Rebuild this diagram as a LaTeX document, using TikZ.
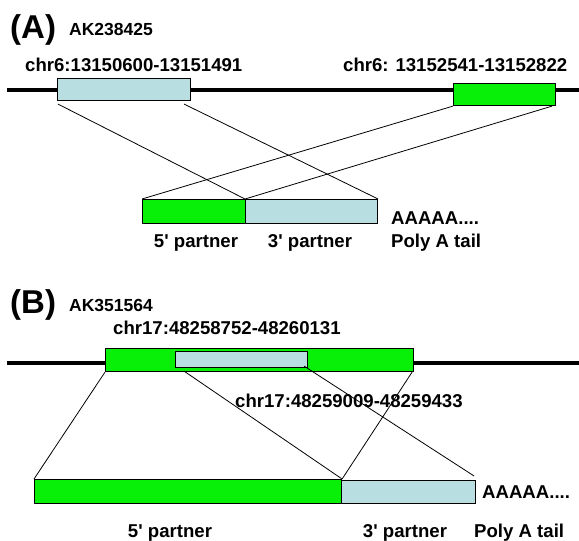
\documentclass[tikz,border=0pt]{standalone}
\usepackage{fontspec}
\setmainfont{Liberation Sans}
\usetikzlibrary{calc}
\definecolor{lblue}{RGB}{185,222,226}
\definecolor{lgreen}{RGB}{8,240,8}
\begin{document}
\begin{tikzpicture}[x=1pt,y=-1pt,
  txt/.style={inner sep=0pt,font=\fontsize{18.6}{18.6}\selectfont\bfseries},
  big/.style={inner sep=0pt,font=\fontsize{33}{33}\selectfont\bfseries},
  acc/.style={inner sep=0pt,font=\fontsize{17.5}{17.5}\selectfont\bfseries},
  exon/.style={draw=black,line width=1.1pt,inner sep=0pt,anchor=north west},
  bexon/.style={exon,fill=lblue},
  gexon/.style={exon,fill=lgreen},
  backbone/.style={line width=4pt},
  link/.style={line width=0.8pt}]
\useasboundingbox (0,0) rectangle (579,541);
% ---------- Panel A ----------
\node[big,anchor=base west] (labA) at (10,38) {(A)};
\node[acc,anchor=base west] (accA) at (69,35) {AK238425};
\node[txt,anchor=base west] (chrA1) at (25,71) {chr6:13150600-13151491};
\node[txt,anchor=base west] (chrA2) at (343,71) {chr6: 13152541-13152822};
\coordinate (bbAl) at (7,90);
\coordinate (bbAr) at (579,90);
\draw[backbone] (bbAl) -- (bbAr);
\node[bexon,minimum width=133pt,minimum height=22pt] (a1) at (57,78) {};
\node[gexon,minimum width=102pt,minimum height=22pt] (a2) at (453,83) {};
\node[gexon,minimum width=103pt,minimum height=24pt] (a5) at (142,199) {};
\node[bexon,minimum width=132pt,minimum height=24pt] (a3) at (245,199) {};
\draw[link] ($(a1.south west)+(1,3)$) -- (a3.north west);
\draw[link] ($(a1.south east)+(-7,3)$) -- (a3.north east);
\draw[link] (a2.south west) -- (a5.north west);
\draw[link] ($(a2.south east)+(-4,0)$) -- (a3.north west);
\node[txt,anchor=base west] (polyA) at (391,224) {AAAAA....};
\node[txt,anchor=base] (p5A) at (196,247) {5\textquotesingle{} partner};
\node[txt,anchor=base] (p3A) at (310,247) {3\textquotesingle{} partner};
\node[txt,anchor=base west] (tailA) at (391,247) {Poly A tail};
% ---------- Panel B ----------
\node[big,anchor=base west] (labB) at (10,313) {(B)};
\node[acc,anchor=base west] (accB) at (69,311) {AK351564};
\node[txt,anchor=base west] (chrB1) at (113,334) {chr17:48258752-48260131};
\coordinate (bbBl) at (7,363);
\coordinate (bbBr) at (579,363);
\draw[backbone] (bbBl) -- (bbBr);
\node[gexon,minimum width=308pt,minimum height=23pt] (b1) at (105,348) {};
\node[bexon,minimum width=132pt,minimum height=16pt] (b2) at (175,351) {};
\node[gexon,minimum width=307pt,minimum height=24pt] (b5) at (34,479) {};
\node[bexon,minimum width=134pt,minimum height=23pt] (b3) at (341,480) {};
\draw[link] (b1.south west) -- (b5.north west);
\draw[link] ($(b1.south east)+(-2,0)$) -- (b5.north east);
\draw[link] ($(b2.south west)+(9,3)$) -- (b5.north east);
\draw[link] ($(b2.south east)+(-4,-2)$) -- ($(b3.north east)+(-2,-4)$);
\node[txt,anchor=base west] (chrB2) at (235,407) {chr17:48259009-48259433};
\node[txt,anchor=base west] (polyB) at (482,498) {AAAAA....};
\node[txt,anchor=base] (p5B) at (170,537) {5\textquotesingle{} partner};
\node[txt,anchor=base] (p3B) at (405,537) {3\textquotesingle{} partner};
\node[txt,anchor=base west] (tailB) at (474,537) {Poly A tail};
\end{tikzpicture}
\end{document}
